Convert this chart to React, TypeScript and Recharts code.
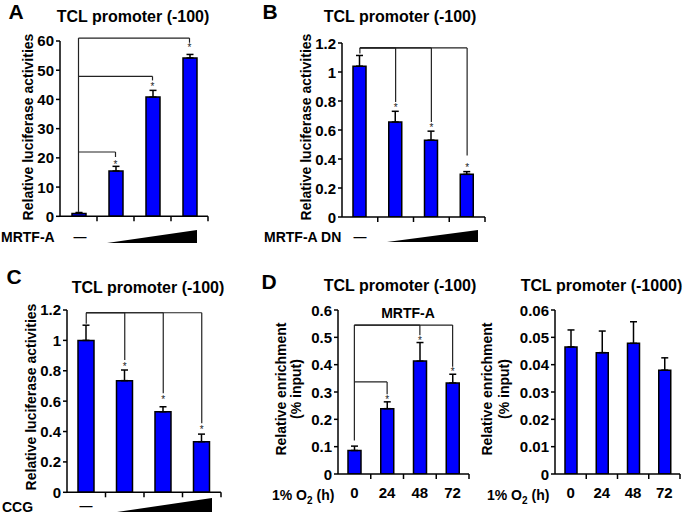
import React from 'react'
import { BarChart, Bar, XAxis, YAxis, ErrorBar, ReferenceLine, ReferenceDot } from 'recharts'

const FONT = "'Liberation Sans', Arial, Helvetica, sans-serif"

const doseSteps = ['none', 'low', 'mid', 'high']
const hypoxiaHours = ['0', '24', '48', '72']

// A: MRTF-A dose
const mrtfValues = [1.0, 15.5, 40.8, 54.2]
const mrtfErrors = [0.3, 1.6, 2.3, 1.2]
const mrtfTicks = [0, 10, 20, 30, 40, 50, 60]

// B: MRTF-A DN dose
const dnValues = [1.04, 0.655, 0.53, 0.294]
const dnErrors = [0.074, 0.074, 0.062, 0.019]
const ratioTicks = [0, 0.2, 0.4, 0.6, 0.8, 1, 1.2]

// C: CCG dose
const ccgValues = [1.0, 0.735, 0.53, 0.333]
const ccgErrors = [0.1, 0.07, 0.033, 0.05]

// D: ChIP, -100
const chip100Values = [0.086, 0.239, 0.413, 0.333]
const chip100Errors = [0.016, 0.025, 0.068, 0.032]
const chip100Ticks = [0, 0.1, 0.2, 0.3, 0.4, 0.5, 0.6]

// D: ChIP, -1000
const chip1000Values = [0.0465, 0.0444, 0.0478, 0.038]
const chip1000Errors = [0.0062, 0.0079, 0.0079, 0.0045]
const chip1000Ticks = [0, 0.01, 0.02, 0.03, 0.04, 0.05, 0.06]

type Link = { to: number; level: number; end: number; star: number }

// significance brackets: line from first bar to bar `to` at `level`, drop to `end`, star at `star`
const mrtfLinks: Link[] = [
  { to: 1, level: 22, end: 20.3, star: 18.2 },
  { to: 2, level: 47.9, end: 46.5, star: 44.8 },
  { to: 3, level: 61, end: 59.4, star: 58.2 },
]
const dnLinks: Link[] = [
  { to: 1, level: 1.166, end: 0.793, star: 0.765 },
  { to: 2, level: 1.166, end: 0.655, star: 0.625 },
  { to: 3, level: 1.166, end: 0.425, star: 0.355 },
]
const ccgLinks: Link[] = [
  { to: 1, level: 1.182, end: 0.871, star: 0.84 },
  { to: 2, level: 1.182, end: 0.652, star: 0.62 },
  { to: 3, level: 1.182, end: 0.454, star: 0.422 },
]
const chip100Links: Link[] = [
  { to: 1, level: 0.337, end: 0.292, star: 0.279 },
  { to: 2, level: 0.545, end: 0.508, star: 0.495 },
  { to: 3, level: 0.545, end: 0.392, star: 0.379 },
]

const BandTick = (props: any) => {
  const { x, y, payload, band, showLabel } = props
  const edge = x + band / 2
  return (
    <g>
      <line x1={edge} x2={edge} y1={y} y2={y + 5} stroke="#000" strokeWidth={1.5} />
      {showLabel && (
        <text x={x} y={y + 24} textAnchor="middle" fontSize={15} fontWeight="bold" fontFamily={FONT} fill="#000">
          {payload.value}
        </text>
      )}
    </g>
  )
}

const ValueTick = (props: any) => {
  const { x, y, payload } = props
  return (
    <text x={x} y={y + 5.5} textAnchor="end" fontSize={15} fontWeight="bold" fontFamily={FONT} fill="#000">
      {payload.value}
    </text>
  )
}

const Star = (p: any) => (
  <text x={p.cx} y={p.cy + 5} textAnchor="middle" fontSize={10} fontFamily={FONT} fill="#222">
    *
  </text>
)

interface PanelProps {
  left: number
  top: number
  plotW: number
  plotH: number
  cats: string[]
  values: number[]
  errors: number[]
  ticks: number[]
  barSize: number
  links?: Link[]
  baseEnd?: number
  showCats?: boolean
}

function Panel({ left, top, plotW, plotH, cats, values, errors, ticks, barSize, links = [], baseEnd = 0, showCats = false }: PanelProps) {
  const data = cats.map((name, i) => ({ name, value: values[i], err: [0, errors[i]] }))
  const yAxisW = 50
  const topM = 14
  const rightM = 6
  const xAxisH = 32
  const topLevel = links.length ? Math.max(...links.map((l) => l.level)) : 0
  const lineProps = { stroke: '#222', strokeWidth: 1.2, ifOverflow: 'visible' as const }

  return (
    <div style={{ position: 'absolute', left: left - yAxisW, top: top - topM }}>
      <BarChart
        width={plotW + yAxisW + rightM}
        height={plotH + topM + xAxisH}
        data={data}
        margin={{ top: topM, right: rightM, bottom: 0, left: 0 }}
        barSize={barSize}
      >
        <XAxis
          dataKey="name"
          height={xAxisH}
          axisLine={{ stroke: '#000', strokeWidth: 1.5 }}
          tickLine={false}
          tickSize={0}
          tickMargin={0}
          interval={0}
          tick={<BandTick band={plotW / cats.length} showLabel={showCats} />}
        />
        <YAxis
          width={yAxisW}
          domain={[0, ticks[ticks.length - 1]]}
          ticks={ticks}
          allowDataOverflow
          interval={0}
          axisLine={{ stroke: '#000', strokeWidth: 1.5 }}
          tickLine={{ stroke: '#000', strokeWidth: 1.5 }}
          tickSize={4}
          tickMargin={2}
          tick={<ValueTick />}
        />
        <Bar dataKey="value" fill="#0000ff" stroke="#000" strokeWidth={1.5} isAnimationActive={false}>
          <ErrorBar dataKey="err" width={3.5} stroke="#000" strokeWidth={1.5} direction="y" />
        </Bar>
        {links.length > 0 && (
          <ReferenceLine segment={[{ x: cats[0], y: topLevel }, { x: cats[0], y: baseEnd }]} {...lineProps} />
        )}
        {links.map((l) => (
          <ReferenceLine key={`h${l.to}`} segment={[{ x: cats[0], y: l.level }, { x: cats[l.to], y: l.level }]} {...lineProps} />
        ))}
        {links.map((l) => (
          <ReferenceLine key={`v${l.to}`} segment={[{ x: cats[l.to], y: l.level }, { x: cats[l.to], y: l.end }]} {...lineProps} />
        ))}
        {links.map((l) => (
          <ReferenceDot key={`s${l.to}`} x={cats[l.to]} y={l.star} r={0} ifOverflow="visible" shape={Star} />
        ))}
      </BarChart>
    </div>
  )
}

const Txt = ({ x, y, size = 14, children, anchor = 'center' }: any) => (
  <div
    style={{
      position: 'absolute',
      left: x,
      top: y,
      transform: anchor === 'center' ? 'translate(-50%, -50%)' : 'translate(0, -50%)',
      fontSize: size,
      fontWeight: 'bold',
      fontFamily: FONT,
      whiteSpace: 'nowrap',
      lineHeight: 1,
      color: '#000',
    }}
  >
    {children}
  </div>
)

const RotTxt = ({ x, y, children }: any) => (
  <div
    style={{
      position: 'absolute',
      left: x,
      top: y,
      transform: 'translate(-50%, -50%) rotate(-90deg)',
      fontSize: 14,
      fontWeight: 'bold',
      fontFamily: FONT,
      whiteSpace: 'nowrap',
      lineHeight: 1,
      color: '#000',
    }}
  >
    {children}
  </div>
)

const Wedge = ({ x1, x2, yTop, yBot }: any) => (
  <svg style={{ position: 'absolute', left: 0, top: 0, overflow: 'visible' }} width={1} height={1}>
    <polygon points={`${x1},${yBot} ${x2},${yBot} ${x2},${yTop}`} fill="#000" />
  </svg>
)

const O2 = () => (
  <span>
    1% O<sub style={{ fontSize: 10, verticalAlign: 'baseline', position: 'relative', top: 4 }}>2</sub> (h)
  </span>
)

export default function App() {
  return (
    <div style={{ position: 'absolute', left: 0, top: 0, width: 685, height: 521, background: '#fff', overflow: 'hidden' }}>
      {/* A */}
      <Txt x={16} y={11} size={21}>A</Txt>
      <Txt x={133} y={17} size={16}>TCL promoter (-100)</Txt>
      <RotTxt x={27.5} y={127}>Relative luciferase activities</RotTxt>
      <Panel left={60} top={40.7} plotW={148} plotH={175.3} cats={doseSteps} values={mrtfValues} errors={mrtfErrors} ticks={mrtfTicks} barSize={14} links={mrtfLinks} baseEnd={1.5} />
      <Txt x={1} y={237} anchor="left">MRTF-A</Txt>
      <Txt x={80} y={236} size={13}>—</Txt>
      <Wedge x1={107} x2={197} yTop={230} yBot={243} />

      {/* B */}
      <Txt x={270} y={11} size={21}>B</Txt>
      <Txt x={400} y={17} size={16}>TCL promoter (-100)</Txt>
      <RotTxt x={306} y={127}>Relative luciferase activities</RotTxt>
      <Panel left={342} top={42.7} plotW={143} plotH={174} cats={doseSteps} values={dnValues} errors={dnErrors} ticks={ratioTicks} barSize={13} links={dnLinks} baseEnd={1.127} />
      <Txt x={264} y={237} anchor="left">MRTF-A DN</Txt>
      <Txt x={360} y={236} size={13}>—</Txt>
      <Wedge x1={387} x2={478} yTop={230} yBot={242} />

      {/* C */}
      <Txt x={14} y={276} size={21}>C</Txt>
      <Txt x={148} y={287.5} size={16}>TCL promoter (-100)</Txt>
      <RotTxt x={31} y={396.5}>Relative luciferase activities</RotTxt>
      <Panel left={67} top={310} plotW={154} plotH={182.3} cats={doseSteps} values={ccgValues} errors={ccgErrors} ticks={ratioTicks} barSize={16} links={ccgLinks} baseEnd={1.11} />
      <Txt x={2} y={507} anchor="left">CCG</Txt>
      <Txt x={86} y={505} size={13}>—</Txt>
      <Wedge x1={117} x2={212} yTop={498} yBot={512} />

      {/* D */}
      <Txt x={269} y={281} size={21}>D</Txt>
      <Txt x={400} y={286} size={16}>TCL promoter (-100)</Txt>
      <RotTxt x={281} y={389}>Relative enrichment</RotTxt>
      <RotTxt x={296} y={389}>(% input)</RotTxt>
      <Panel left={338} top={310} plotW={131} plotH={164} cats={hypoxiaHours} values={chip100Values} errors={chip100Errors} ticks={chip100Ticks} barSize={13} links={chip100Links} baseEnd={0.123} showCats />
      <Txt x={408} y={313}>MRTF-A</Txt>
      <Txt x={272} y={495} anchor="left"><O2 /></Txt>

      <Txt x={601.5} y={286} size={16}>TCL promoter (-1000)</Txt>
      <RotTxt x={487} y={389}>Relative enrichment</RotTxt>
      <RotTxt x={504} y={389}>(% input)</RotTxt>
      <Panel left={555} top={310} plotW={125} plotH={164} cats={hypoxiaHours} values={chip1000Values} errors={chip1000Errors} ticks={chip1000Ticks} barSize={12} showCats />
      <Txt x={487} y={495} anchor="left"><O2 /></Txt>
    </div>
  )
}
